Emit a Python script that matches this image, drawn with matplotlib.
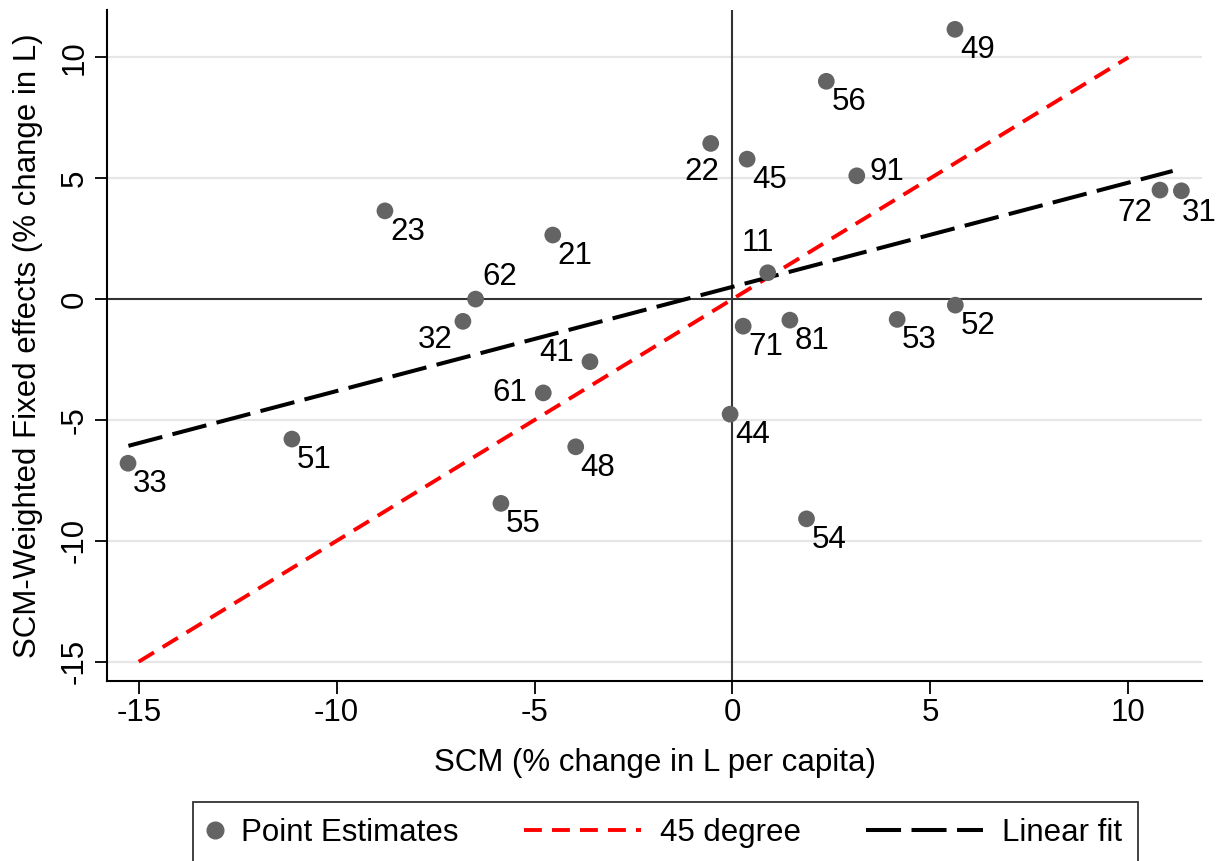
import matplotlib
matplotlib.use("Agg")
import matplotlib.pyplot as plt
from matplotlib.lines import Line2D
from matplotlib.legend_handler import HandlerLine2D

plt.rcParams["font.family"] = ["Liberation Sans", "DejaVu Sans"]
plt.rcParams["axes.unicode_minus"] = False

# estimates
labels = ["33", "51", "55", "61", "48", "23", "21", "62", "32", "41", "22", "45",
          "11", "71", "81", "53", "52", "44", "54", "49", "56", "91", "72", "31"]
scm = [-15.27, -11.13, -5.85, -4.78, -3.96, -8.78, -4.54, -6.49, -6.81, -3.60, -0.55, 0.37,
       0.89, 0.27, 1.45, 4.16, 5.63, -0.06, 1.87, 5.62, 2.37, 3.14, 10.80, 11.34]
fe = [-6.79, -5.79, -8.45, -3.88, -6.11, 3.65, 2.65, 0.00, -0.92, -2.59, 6.44, 5.79,
      1.09, -1.12, -0.87, -0.84, -0.25, -4.76, -9.09, 11.16, 9.01, 5.10, 4.51, 4.48]

# 45 degree line and linear fit end points
deg45_x = [-15, 10]
deg45_y = [-15, 10]
fit_x = [-15.26, 11.12]
fit_y = [-6.07, 5.30]

xticks = [-15, -10, -5, 0, 5, 10]
yticks = [-15, -10, -5, 0, 5, 10]

FS = 22.5
DOT = "#646464"
RED_DASH = (4.6, 2.6)
BLK_DASH = (8.7, 2.6)

# label placement (pixel offsets, alignment); default is below right
lab_pos = {
    "61": (-16, 0, "right"),
    "62": (7, 22, "left"),
    "32": (-10, -19, "right"),
    "41": (-16, 9, "right"),
    "22": (9, -29, "right"),
    "11": (6, 30, "right"),
    "91": (13, 4, "left"),
    "72": (-8, -23, "right"),
    "31": (0, -22, "left"),
}


class ShortKey(HandlerLine2D):
    # marker key narrower than the line keys
    def legend_artist(self, legend, orig_handle, fontsize, handlebox):
        handlebox.width = 0.42 * fontsize
        return super().legend_artist(legend, orig_handle, fontsize, handlebox)


fig = plt.figure(figsize=(12.22, 8.61), dpi=100)
ax = fig.add_axes([0.0876, 0.209, 0.896, 0.7794])

for t in yticks:
    if t != 0:
        ax.axhline(t, color="#e6e6e6", lw=1.6, zorder=0)
ax.axhline(0, color="#333333", lw=1.5, zorder=1)
ax.axvline(0, color="#333333", lw=1.5, zorder=1)

ax.plot(deg45_x, deg45_y, color="red", lw=2.8, dashes=RED_DASH, zorder=2)
ax.plot(fit_x, fit_y, color="black", lw=2.9, dashes=BLK_DASH, zorder=2)
ax.scatter(scm, fe, s=145, color=DOT, edgecolor="none", zorder=3)

for lab, x, y in zip(labels, scm, fe):
    dx, dy, ha = lab_pos.get(lab, (5, -21, "left"))
    ax.annotate(lab, (x, y), xytext=(dx, dy), textcoords="offset pixels",
                ha=ha, va="center", fontsize=FS)

ax.set_xlim(-15.8, 11.86)
ax.set_ylim(-15.8, 11.96)
ax.set_xticks(xticks)
ax.set_yticks(yticks)
ax.tick_params(labelsize=FS, length=9, width=1.3, color="black")
for lbl in ax.get_yticklabels():
    lbl.set_rotation(90)
    lbl.set_va("center")
ax.spines["top"].set_visible(False)
ax.spines["right"].set_visible(False)
ax.spines["left"].set_linewidth(1.5)
ax.spines["bottom"].set_linewidth(1.5)
ax.set_xlabel("SCM (% change in L per capita)", fontsize=FS, labelpad=14)
ax.set_ylabel("SCM-Weighted Fixed effects (% change in L)", fontsize=FS, labelpad=12)

h_dot = Line2D([], [], marker="o", ls="none", color=DOT, markersize=12)
h_red = Line2D([], [], color="red", lw=2.8, dashes=RED_DASH)
h_blk = Line2D([], [], color="black", lw=2.9, dashes=BLK_DASH)
leg = fig.legend([h_dot, h_red, h_blk], ["Point Estimates", "45 degree", "Linear fit"],
                 loc="upper center", bbox_to_anchor=(0.5446, 0.0685), ncol=3,
                 fontsize=FS, frameon=True, fancybox=False, edgecolor="black",
                 handlelength=3.75, columnspacing=2.1, handletextpad=0.6,
                 borderpad=0.5, borderaxespad=0, handler_map={h_dot: ShortKey()})
leg.get_frame().set_linewidth(1.3)

fig.savefig("out.png", dpi=100)
